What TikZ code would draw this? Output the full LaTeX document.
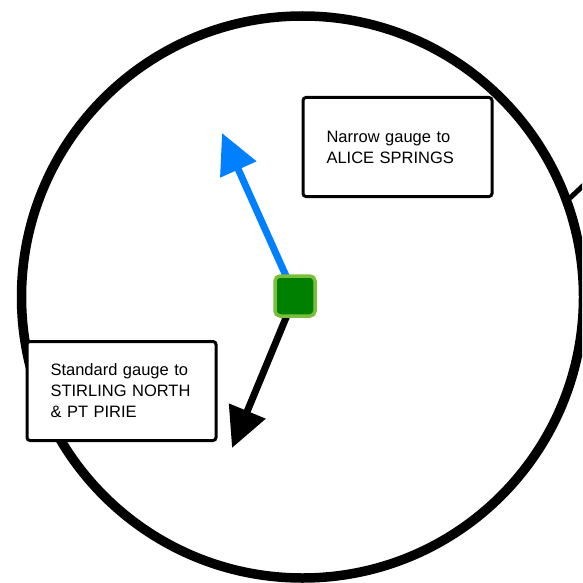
\documentclass[tikz,border=0pt]{standalone}
\usepackage{fontspec}
\setmainfont{Liberation Sans}
\usetikzlibrary{arrows.meta}

\definecolor{narrowblue}{RGB}{0,128,255}
\definecolor{hubgreen}{RGB}{0,128,0}
\definecolor{hubrim}{RGB}{122,190,60}

\begin{document}
\begin{tikzpicture}[
  x = 1pt, y = -1pt,
  ring/.style    = {draw, line width=9.5pt},
  stub/.style    = {draw, line width=5pt},
  notebox/.style = {draw, line width=3pt, fill=white, rounded corners=3pt,
                    text width=142pt, inner xsep=23.5pt, minimum height=99pt,
                    align=left, font=\fontsize{16.5}{21}\selectfont},
  hub/.style     = {draw=hubrim, fill=hubgreen, line width=3.5pt,
                    rounded corners=5pt, minimum size=40pt, inner sep=0pt},
  gauge/.style   = {line width=7pt, -{Triangle[length=40pt, width=38pt]}},
]

\useasboundingbox (0,0) rectangle (582,583);
\clip (0,0) rectangle (582,583);

% yard circle and the edge of the next one
\draw[ring] (302.5,297) circle[radius=281];
\coordinate (stubfrom) at (570,198);
\coordinate (stubto)   at (604,166);
\draw[stub] (stubfrom) -- (stubto);

% the two lines leaving the junction
\coordinate (junction)     at (295,296);
\coordinate (narrowtip)    at (222,133);
\coordinate (standardtip)  at (232,448);
\draw[gauge, narrowblue] (junction) -- (narrowtip);
\draw[gauge, black]      (junction) -- (standardtip);

\node[hub] (points) at (junction) {};

\node[notebox] (narrow)   at (397.5,147) {Narrow gauge to\\ALICE SPRINGS};
\node[notebox] (standard) at (121.5,391) {Standard gauge to\\STIRLING NORTH\\\& PT PIRIE};

\end{tikzpicture}
\end{document}
